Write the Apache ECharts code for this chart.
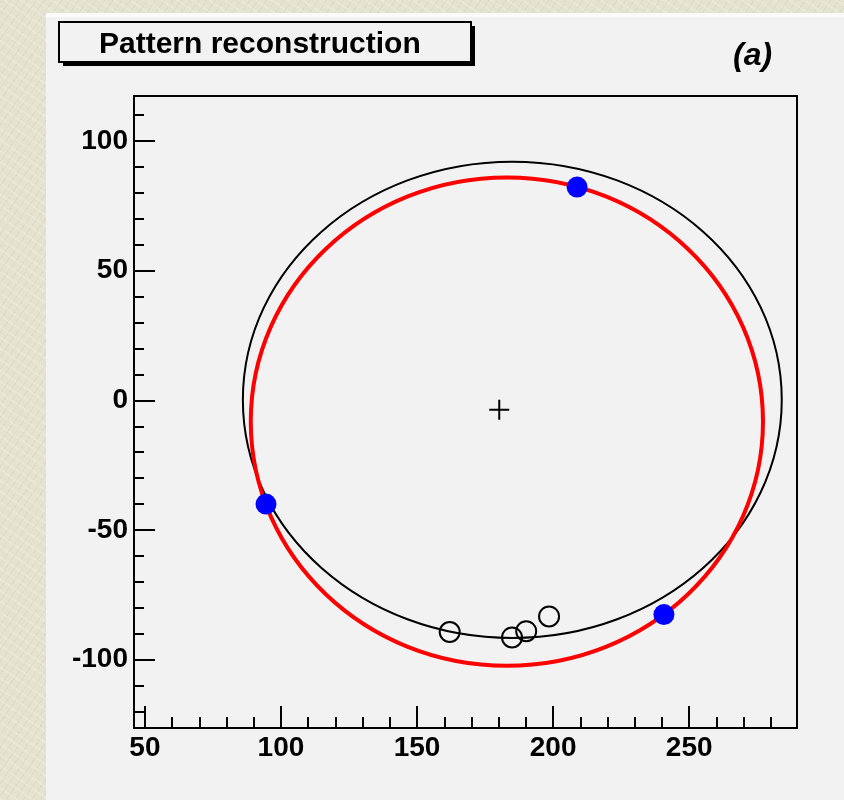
<!DOCTYPE html>
<html>
<head>
<meta charset="utf-8">
<script src="https://cdn.jsdelivr.net/npm/echarts@6/dist/echarts.min.js"></script>
<style>
  html, body { margin: 0; padding: 0; width: 844px; height: 800px; overflow: hidden;
    background-color: #e4e3cf;
    background-image:
      repeating-linear-gradient(35deg, rgba(255,255,255,0.18) 0 2px, rgba(0,0,0,0) 2px 9px),
      repeating-linear-gradient(-55deg, rgba(160,160,130,0.12) 0 1px, rgba(0,0,0,0) 1px 7px);
  }
  #canvas { position: absolute; left: 46px; top: 13px; width: 798px; height: 787px;
    background: #f2f2f2; border-top: 4px solid #fbfbfb; box-sizing: border-box; }
  #chart { position: absolute; left: 0; top: 0; width: 844px; height: 800px; }
</style>
</head>
<body>
<div id="canvas"></div>
<div id="chart"></div>
<script>
// ---- data ----
const titleText = 'Pattern reconstruction';
const panelLabel = '(a)';

const xRange = [46, 289.6];
const yRange = [-126.3, 117.3];

const xMajorTicks = [50, 100, 150, 200, 250];
const xMinorTicks = [60, 70, 80, 90, 110, 120, 130, 140, 160, 170, 180, 190, 210, 220, 230, 240, 260, 270, 280];
const yMajorTicks = [-100, -50, 0, 50, 100];
const yMinorTicks = [-120, -110, -90, -80, -70, -60, -40, -30, -20, -10, 10, 20, 30, 40, 60, 70, 80, 90, 110];

// ellipses: [centerX, centerY, radiusX, radiusY]
const blackEllipse = [185, 0.2, 99, 91.8];
const redCircle = [183, -8.2, 94.1, 94.1];

// fitted centre (cross)
const centerPoint = [[180.2, -3.6]];
// hits used in the fit (blue)
const blueHits = [[208.8, 82.2], [94.5, -40.0], [240.7, -82.6]];
// other hits (open circles)
const openHits = [[162.0, -89.3], [184.9, -91.4], [190.1, -89.0], [198.5, -83.3]];

// ---- chart ----
const FONT = '"Liberation Sans", Arial, Helvetica, sans-serif';
const chart = echarts.init(document.getElementById('chart'), null, { renderer: 'canvas' });

function ellipseSeries(vals, color, width, z) {
  return {
    type: 'custom',
    xAxisIndex: 0, yAxisIndex: 0,
    z: z,
    silent: true,
    data: [vals],
    encode: { x: 0, y: 1 },
    renderItem: function (params, api) {
      const c = api.coord([api.value(0), api.value(1)]);
      const s = api.size([api.value(2), api.value(3)]);
      return {
        type: 'ellipse',
        shape: { cx: c[0], cy: c[1], rx: s[0], ry: s[1] },
        style: { fill: null, stroke: color, lineWidth: width }
      };
    }
  };
}

const gridRect = { left: 134, top: 96, right: 47, bottom: 72 };

const option = {
  animation: false,
  backgroundColor: 'transparent',
  graphic: [
    { type: 'rect', silent: true, shape: { x: 63, y: 26, width: 412, height: 40 }, style: { fill: '#000' } },
    { type: 'rect', silent: true, shape: { x: 59, y: 22, width: 412, height: 40 }, style: { fill: '#f2f2f2', stroke: '#000', lineWidth: 2 } }
  ],
  title: [
    {
      text: titleText,
      left: 99, top: 30,
      padding: 0,
      textStyle: { fontFamily: FONT, fontSize: 30, fontWeight: 'bold', color: '#000', lineHeight: 30 }
    },
    {
      text: panelLabel,
      left: 733, top: 40,
      padding: 0,
      textStyle: { fontFamily: FONT, fontSize: 32, fontWeight: 'bold', fontStyle: 'italic', color: '#000', lineHeight: 32 }
    }
  ],
  grid: [
    Object.assign({ show: true, borderColor: '#000', borderWidth: 2, backgroundColor: 'transparent', containLabel: false }, gridRect),
    Object.assign({ show: false, containLabel: false }, gridRect)
  ],
  xAxis: [
    {
      type: 'value', gridIndex: 0, min: xRange[0], max: xRange[1], position: 'bottom',
      axisLine: { show: true, onZero: false, lineStyle: { color: '#000', width: 2 } },
      axisTick: { show: true, inside: true, length: 22, lineStyle: { color: '#000', width: 2 }, customValues: xMajorTicks },
      axisLabel: { show: true, customValues: xMajorTicks, margin: 6, color: '#000', fontFamily: FONT, fontSize: 28, fontWeight: 'bold' },
      splitLine: { show: false }
    },
    {
      type: 'value', gridIndex: 1, min: xRange[0], max: xRange[1], position: 'bottom',
      axisLine: { show: false, onZero: false },
      axisTick: { show: true, inside: true, length: 11, lineStyle: { color: '#000', width: 2 }, customValues: xMinorTicks },
      axisLabel: { show: false },
      splitLine: { show: false }
    }
  ],
  yAxis: [
    {
      type: 'value', gridIndex: 0, min: yRange[0], max: yRange[1], position: 'left',
      axisLine: { show: true, onZero: false, lineStyle: { color: '#000', width: 2 } },
      axisTick: { show: true, inside: true, length: 21, lineStyle: { color: '#000', width: 2 }, customValues: yMajorTicks },
      axisLabel: { show: true, customValues: yMajorTicks, margin: 6, color: '#000', fontFamily: FONT, fontSize: 28, fontWeight: 'bold' },
      splitLine: { show: false }
    },
    {
      type: 'value', gridIndex: 1, min: yRange[0], max: yRange[1], position: 'left',
      axisLine: { show: false, onZero: false },
      axisTick: { show: true, inside: true, length: 10, lineStyle: { color: '#000', width: 2 }, customValues: yMinorTicks },
      axisLabel: { show: false },
      splitLine: { show: false }
    }
  ],
  series: [
    ellipseSeries(blackEllipse, '#000000', 2, 2),
    ellipseSeries(redCircle, '#ff0000', 4, 3),
    {
      type: 'scatter', xAxisIndex: 0, yAxisIndex: 0, z: 4, silent: true,
      data: openHits,
      symbol: 'circle', symbolSize: 20,
      itemStyle: { color: 'transparent', borderColor: '#000', borderWidth: 2, opacity: 1 }
    },
    {
      type: 'scatter', xAxisIndex: 0, yAxisIndex: 0, z: 5, silent: true,
      data: blueHits,
      symbol: 'circle', symbolSize: 21,
      itemStyle: { color: '#0000ff', opacity: 1 }
    },
    {
      type: 'scatter', xAxisIndex: 0, yAxisIndex: 0, z: 5, silent: true,
      data: centerPoint,
      symbol: 'path://M0,9H20V11H0Z M9,0H11V20H9Z', symbolSize: 20,
      itemStyle: { color: '#000', opacity: 1 }
    }
  ]
};
chart.setOption(option);
</script>
</body>
</html>
